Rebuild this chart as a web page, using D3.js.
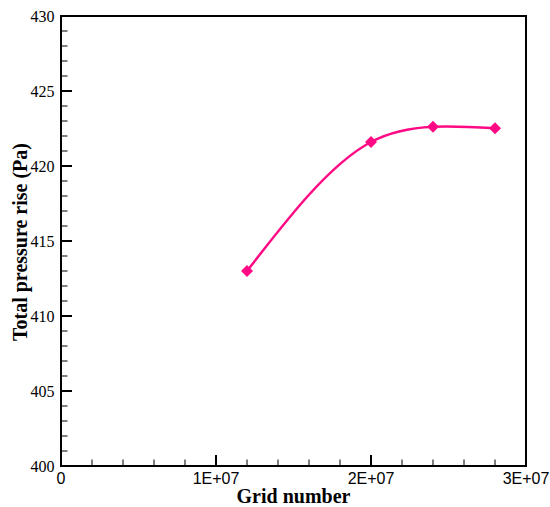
<!DOCTYPE html>
<html>
<head>
<meta charset="utf-8">
<script src="https://cdn.jsdelivr.net/npm/d3@7"></script>
<style>
  html, body { margin: 0; padding: 0; background: #fff; }
  svg { display: block; }
</style>
</head>
<body>
<svg id="chart" width="550" height="507"></svg>
<script>
// Data
const gridNumbers = [1.2e7, 2.0e7, 2.4e7, 2.8e7];
const pressureRise = [413.0, 421.6, 422.62, 422.52];
const xTickValues = [0, 1e7, 2e7, 3e7];
const xTickLabels = ["0", "1E+07", "2E+07", "3E+07"];
const yTickValues = [400, 405, 410, 415, 420, 425, 430];
const xTitle = "Grid number";
const yTitle = "Total pressure rise (Pa)";

// Natural cubic spline in x (as the original plotting tool draws), as a d3 curve
function curveSplineX(context) {
  let xs, ys;
  return {
    areaStart() {}, areaEnd() {},
    lineStart() { xs = []; ys = []; },
    point(px, py) { xs.push(+px); ys.push(+py); },
    lineEnd() {
      const n = xs.length;
      if (n === 0) return;
      context.moveTo(xs[0], ys[0]);
      if (n === 1) return;
      if (n === 2) { context.lineTo(xs[1], ys[1]); return; }
      const h = [], s = [];
      for (let i = 0; i < n - 1; i++) { h.push(xs[i + 1] - xs[i]); s.push((ys[i + 1] - ys[i]) / h[i]); }
      // tridiagonal solve for second derivatives M (natural: M0 = Mn-1 = 0)
      const M = new Array(n).fill(0);
      const m = n - 2;
      const a = [], b = [], c = [], r = [];
      for (let i = 1; i <= m; i++) {
        a.push(h[i - 1]); b.push(2 * (h[i - 1] + h[i])); c.push(h[i]); r.push(6 * (s[i] - s[i - 1]));
      }
      for (let i = 1; i < m; i++) {
        const w = a[i] / b[i - 1];
        b[i] -= w * c[i - 1]; r[i] -= w * r[i - 1];
      }
      const sol = new Array(m);
      sol[m - 1] = r[m - 1] / b[m - 1];
      for (let i = m - 2; i >= 0; i--) sol[i] = (r[i] - c[i] * sol[i + 1]) / b[i];
      for (let i = 0; i < m; i++) M[i + 1] = sol[i];
      for (let i = 0; i < n - 1; i++) {
        const d0 = s[i] - h[i] * (2 * M[i] + M[i + 1]) / 6;
        const d1 = s[i] + h[i] * (M[i] + 2 * M[i + 1]) / 6;
        context.bezierCurveTo(
          xs[i] + h[i] / 3, ys[i] + d0 * h[i] / 3,
          xs[i + 1] - h[i] / 3, ys[i + 1] - d1 * h[i] / 3,
          xs[i + 1], ys[i + 1]);
      }
    }
  };
}

const svg = d3.select("#chart");
const margin = { left: 61, top: 16, right: 24, bottom: 41 };
const W = 550, H = 507;
const x = d3.scaleLinear().domain([0, 3e7]).range([margin.left, W - margin.right]);
const y = d3.scaleLinear().domain([400, 430]).range([H - margin.bottom, margin.top]);

const x0 = x.range()[0], x1 = x.range()[1];
const y0 = y.range()[0], y1 = y.range()[1];

// Minor ticks
const xMinor = d3.range(0, 3e7 + 1, 2e6).filter(v => v % 1e7 !== 0);
const yMinor = d3.range(400, 430.5, 1).filter(v => v % 5 !== 0);

const g = svg.append("g");
g.selectAll(".xminor").data(xMinor).enter().append("line")
  .attr("x1", d => x(d)).attr("x2", d => x(d))
  .attr("y1", y0).attr("y2", y0 - 6.5)
  .attr("stroke", "#000").attr("stroke-width", 1);
g.selectAll(".yminor").data(yMinor).enter().append("line")
  .attr("y1", d => y(d)).attr("y2", d => y(d))
  .attr("x1", x0).attr("x2", x0 + 6.5)
  .attr("stroke", "#000").attr("stroke-width", 1);

// Major ticks
g.selectAll(".xmajor").data(xTickValues.slice(1, -1)).enter().append("line")
  .attr("x1", d => x(d)).attr("x2", d => x(d))
  .attr("y1", y0).attr("y2", y0 - 11)
  .attr("stroke", "#000").attr("stroke-width", 2);
g.selectAll(".ymajor").data(yTickValues.slice(1, -1)).enter().append("line")
  .attr("y1", d => y(d)).attr("y2", d => y(d))
  .attr("x1", x0).attr("x2", x0 + 11)
  .attr("stroke", "#000").attr("stroke-width", 2);

// Frame
g.append("rect")
  .attr("x", x0).attr("y", y1)
  .attr("width", x1 - x0).attr("height", y0 - y1)
  .attr("fill", "none").attr("stroke", "#000").attr("stroke-width", 2);

// Tick labels
g.selectAll(".xlab").data(xTickValues).enter().append("text")
  .attr("x", d => x(d)).attr("y", y0 + 18)
  .attr("text-anchor", "middle")
  .attr("font-family", "'Liberation Sans', Arial, sans-serif")
  .attr("font-size", 16)
  .text((d, i) => xTickLabels[i]);
g.selectAll(".ylab").data(yTickValues).enter().append("text")
  .attr("x", x0 - 6.5).attr("y", d => y(d) + 5.5)
  .attr("text-anchor", "end")
  .attr("font-family", "'Liberation Serif', 'Times New Roman', serif")
  .attr("font-size", 16)
  .text(d => d);

// Titles
svg.append("text")
  .attr("x", (x0 + x1) / 2).attr("y", 503)
  .attr("text-anchor", "middle")
  .attr("font-family", "'Liberation Serif', 'Times New Roman', serif")
  .attr("font-weight", "bold").attr("font-size", 20)
  .text(xTitle);
svg.append("text")
  .attr("transform", `translate(26.5,242) rotate(-90)`)
  .attr("text-anchor", "middle")
  .attr("font-family", "'Liberation Serif', 'Times New Roman', serif")
  .attr("font-weight", "bold").attr("font-size", 20)
  .text(yTitle);

// Series
const pts = gridNumbers.map((v, i) => [v, pressureRise[i]]);
const line = d3.line().x(d => x(d[0])).y(d => y(d[1])).curve(curveSplineX);
svg.append("path").datum(pts)
  .attr("d", line)
  .attr("fill", "none").attr("stroke", "#FF0A84").attr("stroke-width", 2.5);

const sym = d3.symbol().type(d3.symbolSquare).size(72);
svg.selectAll(".marker").data(pts).enter().append("path")
  .attr("d", sym)
  .attr("transform", d => `translate(${x(d[0])},${y(d[1])}) rotate(45)`)
  .attr("fill", "#FF0A84");
</script>
</body>
</html>
